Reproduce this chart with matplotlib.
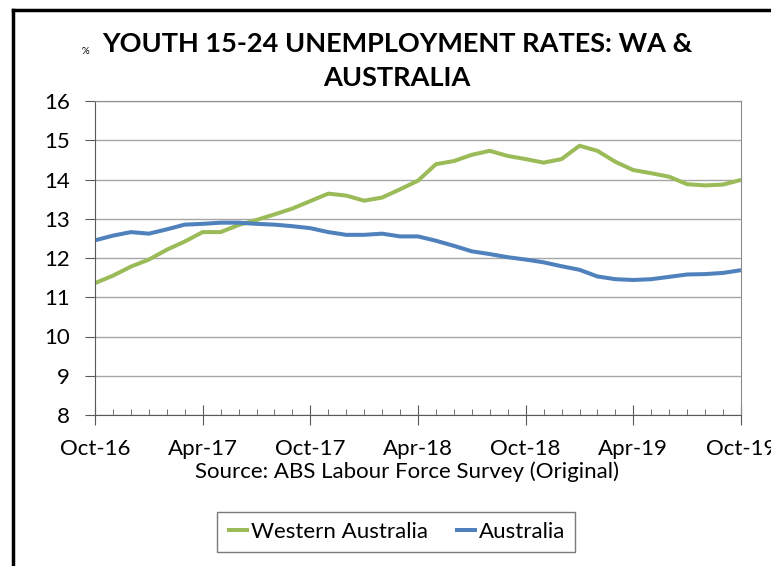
import matplotlib
matplotlib.use("Agg")
import matplotlib.pyplot as plt
from matplotlib.lines import Line2D
import numpy as np

plt.rcParams['font.family'] = ['Lato', 'DejaVu Sans']

# monthly, Oct-16 .. Oct-19
months = ['Oct-16', 'Nov-16', 'Dec-16', 'Jan-17', 'Feb-17', 'Mar-17', 'Apr-17',
          'May-17', 'Jun-17', 'Jul-17', 'Aug-17', 'Sep-17', 'Oct-17', 'Nov-17',
          'Dec-17', 'Jan-18', 'Feb-18', 'Mar-18', 'Apr-18', 'May-18', 'Jun-18',
          'Jul-18', 'Aug-18', 'Sep-18', 'Oct-18', 'Nov-18', 'Dec-18', 'Jan-19',
          'Feb-19', 'Mar-19', 'Apr-19', 'May-19', 'Jun-19', 'Jul-19', 'Aug-19',
          'Sep-19', 'Oct-19']

wa = [11.36, 11.55, 11.78, 11.96, 12.21, 12.42, 12.66, 12.66, 12.84, 12.97,
      13.11, 13.26, 13.45, 13.64, 13.59, 13.46, 13.54, 13.75, 13.97, 14.39,
      14.47, 14.63, 14.73, 14.60, 14.52, 14.43, 14.52, 14.86, 14.73, 14.45,
      14.24, 14.16, 14.07, 13.88, 13.85, 13.87, 13.99]

aus = [12.45, 12.57, 12.66, 12.62, 12.73, 12.85, 12.87, 12.90, 12.90, 12.87,
       12.85, 12.81, 12.76, 12.66, 12.59, 12.59, 12.62, 12.55, 12.55, 12.44,
       12.31, 12.17, 12.10, 12.02, 11.96, 11.89, 11.79, 11.70, 11.53, 11.46,
       11.44, 11.46, 11.52, 11.58, 11.59, 11.62, 11.69]

x = np.arange(len(months))

fig = plt.figure(figsize=(7.71, 5.66), dpi=100)
ax = fig.add_axes([95/771, 1-415/566, 646/771, 314/566])

ax.plot(x, wa, color='#9BBB59', lw=2.9, label='Western Australia', solid_capstyle='butt')
ax.plot(x, aus, color='#4F81BD', lw=2.9, label='Australia', solid_capstyle='butt')

ax.set_xlim(0, 36)
ax.set_ylim(8, 16)
ax.set_yticks(range(8, 17))
ax.set_xticks(x[::6])
ax.set_xticklabels(months[::6])
ax.set_xticks(x, minor=True)
ax.grid(axis='y', color='#A6A6A6', lw=1)
ax.set_axisbelow(True)

for s in ['left', 'bottom']:
    ax.spines[s].set_color('#595959')
for s in ['top', 'right']:
    ax.spines[s].set_color('#8C8C8C')
ax.tick_params(axis='y', direction='out', length=7, color='#595959',
               labelsize=16, pad=11)
ax.tick_params(axis='x', which='major', direction='inout', length=14,
               color='#595959', labelsize=16, pad=10)
ax.tick_params(axis='x', which='minor', direction='in', length=4, color='#595959')

fig.text(397/771, 1-61/566, 'YOUTH 15-24 UNEMPLOYMENT RATES: WA &\nAUSTRALIA',
         ha='center', va='center', fontsize=19.5, fontweight='bold',
         linespacing=1.55)
fig.text(85/771, 1-52/566, '%', ha='center', va='center', fontsize=7)
fig.text(407/771, 1-472/566, 'Source: ABS Labour Force Survey (Original)',
         ha='center', va='center', fontsize=16)

leg = ax.legend(loc='center', bbox_to_anchor=(396/771, 1-532/566),
                bbox_transform=fig.transFigure, ncol=2, frameon=True,
                fancybox=False, fontsize=16, handlelength=1.0,
                handletextpad=0.1, columnspacing=1.2, borderpad=0.45)
leg.get_frame().set_edgecolor('#595959')
leg.get_frame().set_linewidth(1)

# outer chart border
fig.add_artist(Line2D([13/771, 13/771], [0, 1-10/566], color='black', lw=2.5,
                      transform=fig.transFigure))
fig.add_artist(Line2D([13/771, 1], [1-10/566, 1-10/566], color='black', lw=2.5,
                      transform=fig.transFigure))

fig.savefig('out.png', dpi=100)
